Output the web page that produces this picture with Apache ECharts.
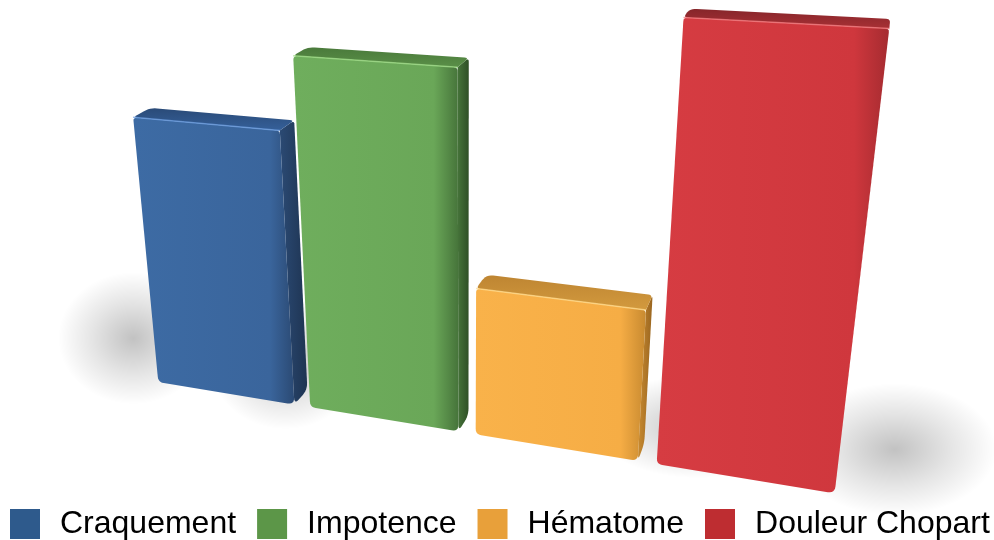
<!DOCTYPE html>
<html>
<head>
<meta charset="utf-8">
<script src="https://cdn.jsdelivr.net/npm/echarts@6/dist/echarts.min.js"></script>
<style>
  html, body { margin: 0; padding: 0; background: #ffffff; }
  #chart { width: 994px; height: 540px; }
</style>
</head>
<body>
<div id="chart"></div>
<script>
// ---- data ----
const categories = ['Craquement', 'Impotence', 'Hématome', 'Douleur Chopart'];
const values = [16, 20, 8.5, 23];
const valueMax = 25;

// ---- styles ----
const legendColors = ['#2E5A8C', '#5C9648', '#E8A03A', '#BE2D31'];
const faceStyles = [
  { front: ['#3D6BA4', '#3A659C'], top: ['#2A4B78', '#35609A'], hi: '#6C9DE0', side: ['#2B4A74', '#1E3452'] },
  { front: ['#6FAE5D', '#6AA758'], top: ['#4A7A3B', '#5A8F48'], hi: '#9EDB86', side: ['#46743A', '#2F4F26'] },
  { front: ['#F9B24A', '#F6AD45'], top: ['#BE8532', '#D39A3E'], hi: '#FFD98A', side: ['#C88A30', '#9A6620'] },
  { front: ['#D63C42', '#CF373D'], top: ['#86262A', '#A83035'], hi: '#F27A7E', side: ['#A52B30', '#7E1F23'] }
];

// ---- view: projective placement of the front plane of the bars ----
// corners of the plotting rectangle (bottom-left, bottom-right, top-right, top-left)
const PLANE = [[151, 381], [845, 495], [907, -18], [109, -52]];
const DEPTH_VP = [930, -330];   // vanishing point of the depth direction
const DEPTH = 0.02;             // bar depth, relative to viewing distance
const BAR_FRAC = 0.9;           // bar width as a share of the category band
const CORNER = 7;               // rounding of the box edges, px

function makeHomography(q) {
  const [x0, y0] = q[0], [x1, y1] = q[1], [x2, y2] = q[2], [x3, y3] = q[3];
  const dx1 = x1 - x2, dx2 = x3 - x2, dx3 = x0 - x1 + x2 - x3;
  const dy1 = y1 - y2, dy2 = y3 - y2, dy3 = y0 - y1 + y2 - y3;
  const den = dx1 * dy2 - dx2 * dy1;
  const g = (dx3 * dy2 - dx2 * dy3) / den;
  const h = (dx1 * dy3 - dx3 * dy1) / den;
  return {
    a: x1 - x0 + g * x1, b: x3 - x0 + h * x3, c: x0,
    d: y1 - y0 + g * y1, e: y3 - y0 + h * y3, f: y0,
    g: g, h: h
  };
}
const H = makeHomography(PLANE);

function project(nx, ny) {
  const w = H.g * nx + H.h * ny + 1;
  return { x: (H.a * nx + H.b * ny + H.c) / w, y: (H.d * nx + H.e * ny + H.f) / w, w: w };
}
function pushBack(p) {
  const t = DEPTH / (p.w + DEPTH);
  return { x: p.x + t * (DEPTH_VP[0] - p.x), y: p.y + t * (DEPTH_VP[1] - p.y), w: p.w + DEPTH };
}
const xy = p => [p.x, p.y];

// polygon outline with softened corners (quadratic arcs sampled into points);
// radii: one value per corner
function rounded(pts, radii) {
  const out = [];
  const n = pts.length;
  for (let i = 0; i < n; i++) {
    const c = pts[i], p = pts[(i + n - 1) % n], q = pts[(i + 1) % n];
    const r = radii[i];
    const lp = Math.hypot(p[0] - c[0], p[1] - c[1]);
    const lq = Math.hypot(q[0] - c[0], q[1] - c[1]);
    if (r <= 0) { out.push(c); continue; }
    const tp = Math.min(r / lp, 0.45), tq = Math.min(r / lq, 0.45);
    const a = [c[0] + (p[0] - c[0]) * tp, c[1] + (p[1] - c[1]) * tp];
    const b = [c[0] + (q[0] - c[0]) * tq, c[1] + (q[1] - c[1]) * tq];
    const steps = 6;
    for (let s = 0; s <= steps; s++) {
      const t = s / steps, m = 1 - t;
      out.push([m * m * a[0] + 2 * m * t * c[0] + t * t * b[0],
                m * m * a[1] + 2 * m * t * c[1] + t * t * b[1]]);
    }
  }
  return out;
}

// projected corners of one bar, from the cartesian coordinates given by the axes
function barCorners(params, api) {
  const cs = params.coordSys;
  const band = api.size([1, 0])[0];
  const half = band * BAR_FRAC / 2;
  const base = api.coord([api.value(0), 0]);
  const top = api.coord([api.value(0), api.value(1)]);
  const norm = (px, py) => project((px - cs.x) / cs.width, (cs.y + cs.height - py) / cs.height);
  return {
    fBL: norm(base[0] - half, base[1]),
    fBR: norm(base[0] + half, base[1]),
    fTR: norm(top[0] + half, top[1]),
    fTL: norm(top[0] - half, top[1])
  };
}

function lin(x0, y0, x1, y1, stops) {
  return new echarts.graphic.LinearGradient(x0, y0, x1, y1,
    stops.map(s => ({ offset: s[0], color: s[1] })));
}

function renderBar(idx) {
  const st = faceStyles[idx];
  return function (params, api) {
    const k = barCorners(params, api);
    const bTL = pushBack(k.fTL), bTR = pushBack(k.fTR), bBR = pushBack(k.fBR);
    const R = CORNER;
    const side = rounded([xy(k.fTR), xy(k.fBR), xy(bBR), xy(bTR)], [0, R, R, R * 0.6]);
    const topFace = rounded([xy(k.fTL), xy(k.fTR), xy(bTR), xy(bTL)], [R * 0.6, 0, R * 0.6, R]);
    const front = rounded([xy(k.fBL), xy(k.fBR), xy(k.fTR), xy(k.fTL)], [R * 0.8, R, R * 0.6, R * 0.6]);
    return {
      type: 'group',
      children: [
        { type: 'polygon', shape: { points: side },
          style: { fill: lin(0, 0, 1, 0, [[0, st.side[0]], [1, st.side[1]]]) } },
        { type: 'polygon', shape: { points: topFace },
          style: { fill: lin(0, 0, 0, 1, [[0, st.top[0]], [1, st.top[1]]]) } },
        { type: 'polygon', shape: { points: front },
          style: { fill: lin(0, 0, 1, 0, [[0, st.front[0]], [0.85, st.front[1]], [1, st.side[0]]]) } },
        { type: 'polyline', shape: { points: [xy(k.fTL), xy(k.fTR)] },
          style: { stroke: st.hi, lineWidth: 1.5, fill: null, opacity: 0.75 } }
      ]
    };
  };
}

// soft floor shadows spreading away from the middle of the chart
function renderShadow(params, api) {
  const k = barCorners(params, api);
  const i = api.value(0);
  const left = i < 2;
  const anchor = left ? k.fBL : k.fBR;
  const h = Math.abs(anchor.y - (left ? k.fTL.y : k.fTR.y));
  const sy = Math.min(1.1, h / 420 + 0.5);
  return {
    type: 'circle',
    x: anchor.x + (left ? -25 : 60),
    y: anchor.y - 40 * sy,
    scaleX: left ? 1.25 : 1.7,
    scaleY: sy,
    shape: { cx: 0, cy: 0, r: 60 },
    style: {
      fill: new echarts.graphic.RadialGradient(0.5, 0.5, 0.5, [
        { offset: 0, color: 'rgba(0,0,0,0.24)' },
        { offset: 0.55, color: 'rgba(0,0,0,0.10)' },
        { offset: 1, color: 'rgba(0,0,0,0)' }
      ])
    },
    silent: true
  };
}

const chart = echarts.init(document.getElementById('chart'), null, { renderer: 'canvas' });

const series = [{
  type: 'custom',
  name: 'shadow',
  coordinateSystem: 'cartesian2d',
  renderItem: renderShadow,
  data: values.map((v, i) => [i, v]),
  z: 1,
  silent: true
}];
categories.forEach((name, i) => {
  series.push({
    type: 'custom',
    name: name,
    coordinateSystem: 'cartesian2d',
    renderItem: renderBar(i),
    data: [[i, values[i]]],
    itemStyle: { color: legendColors[i] },
    z: 2 + i
  });
});

chart.setOption({
  animation: false,
  grid: { left: 0, top: 0, width: 400, height: 300, show: false },
  xAxis: { type: 'category', data: categories, show: false, boundaryGap: true },
  yAxis: { type: 'value', min: 0, max: valueMax, show: false },
  legend: {
    data: categories,
    left: 10,
    top: 508,
    icon: 'rect',
    itemWidth: 30,
    itemHeight: 30,
    itemGap: 21,
    padding: 0,
    textStyle: {
      fontFamily: 'Liberation Sans, Arial, sans-serif',
      fontSize: 32,
      lineHeight: 30,
      color: '#000000',
      padding: [0, 0, 0, 15]
    },
    selectedMode: false
  },
  series: series
});
</script>
</body>
</html>
